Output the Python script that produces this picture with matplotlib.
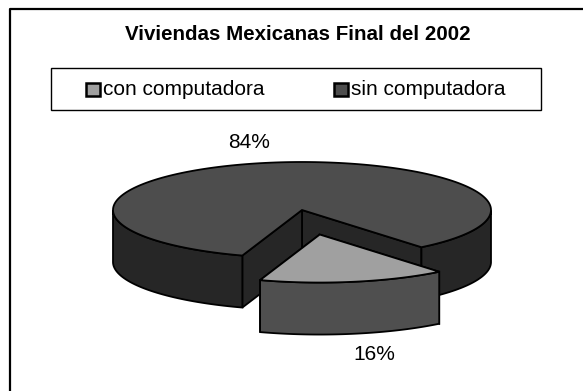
import numpy as np
import matplotlib.pyplot as plt
from matplotlib.patches import Polygon, Rectangle

plt.rcParams['font.family'] = ['Liberation Sans', 'DejaVu Sans']

# data
categories = ['con computadora', 'sin computadora']
values = [16, 84]
pct_labels = ['16%', '84%']
top_colors = ['#a0a0a0', '#4d4d4d']
front_colors = ['#4f4f4f', '#262626']
explode = [0.52, 0.0]

# pie geometry (pixel space)
cx, cy = 302, 210
rx, ry = 189, 48
depth = 52
start = -108.4

fig = plt.figure(figsize=(5.83, 3.91), dpi=100)
ax = fig.add_axes([0, 0, 1, 1])
ax.set_xlim(0, 583)
ax.set_ylim(391, 0)
ax.axis('off')

# outer frame (cut off at right/bottom)
ax.plot([10, 10, 590], [400, 9, 9], color='black', lw=1.6, solid_capstyle='butt')

ax.text(298, 34, 'Viviendas Mexicanas Final del 2002', ha='center', va='center',
        fontsize=14.8, fontweight='bold')

# legend
ax.add_patch(Rectangle((51, 68), 490, 42, facecolor='white', edgecolor='black', lw=1))
for i, (lab, xs) in enumerate(zip(categories, [86, 334])):
    ax.add_patch(Rectangle((xs, 82.5), 13.5, 13.5, facecolor=top_colors[i], edgecolor='black', lw=1.8))
    ax.text(xs + 17, 89.5, lab, ha='left', va='center', fontsize=15)


def pt(phi, ox=0, oy=0, dz=0):
    return (cx + ox + rx * np.cos(phi), cy + oy - ry * np.sin(phi) + dz)


def draw_slice(a0, a1, off, top_c, side_c):
    ox, oy = off
    ph = np.radians(np.linspace(a0, a1, 200))
    c = (cx + ox, cy + oy)
    # cut faces
    for a in (a0, a1):
        p = pt(np.radians(a), ox, oy)
        quad = [c, p, (p[0], p[1] + depth), (c[0], c[1] + depth)]
        ax.add_patch(Polygon(quad, closed=True, facecolor=side_c, edgecolor='black', lw=1.3))
    # outer wall, front part only
    front = np.sin(ph) <= 0
    segs = []
    cur = []
    for k in range(len(ph)):
        if front[k]:
            cur.append(ph[k])
        elif cur:
            segs.append(cur)
            cur = []
    if cur:
        segs.append(cur)
    for s in segs:
        s = np.array(s)
        upper = [pt(a, ox, oy) for a in s]
        lower = [pt(a, ox, oy, depth) for a in s[::-1]]
        ax.add_patch(Polygon(upper + lower, closed=True, facecolor=side_c, edgecolor='black', lw=1.3))
    # top face
    top = [c] + [pt(a, ox, oy) for a in ph]
    ax.add_patch(Polygon(top, closed=True, facecolor=top_c, edgecolor='black', lw=1.3))


angles = []
a = start
for v in values:
    span = 360.0 * v / sum(values)
    angles.append((a, a + span))
    a += span

# draw the big (back) slice first, then the exploded one
for i in [1, 0]:
    a0, a1 = angles[i]
    mid = np.radians((a0 + a1) / 2)
    off = (explode[i] * rx * np.cos(mid), -explode[i] * ry * np.sin(mid))
    draw_slice(a0, a1, off, top_colors[i], front_colors[i])

ax.text(374, 354, pct_labels[0], ha='center', va='center', fontsize=15)
ax.text(249, 142, pct_labels[1], ha='center', va='center', fontsize=15)

fig.savefig('out.png', dpi=100)
